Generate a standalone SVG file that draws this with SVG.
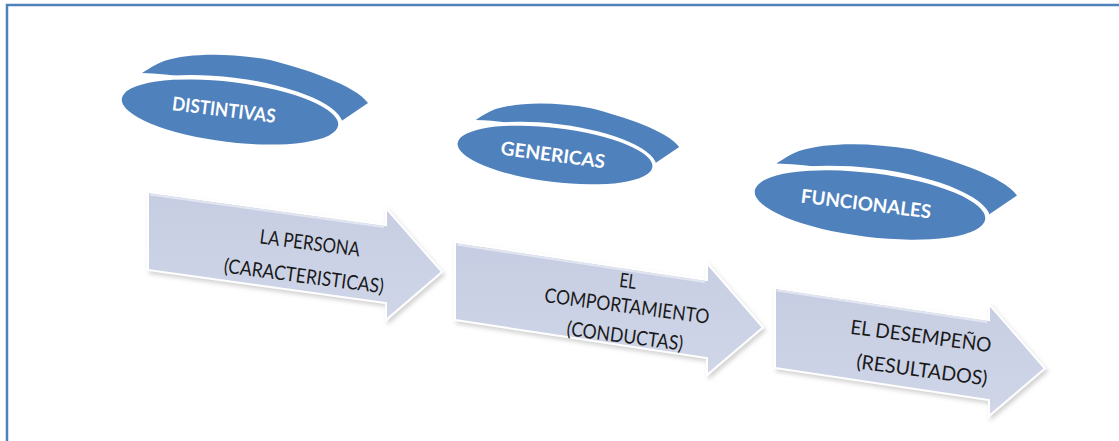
<svg xmlns="http://www.w3.org/2000/svg" width="1119" height="441" viewBox="0 0 1119 441">
<defs>
<filter id="sh" x="-10%" y="-15%" width="125%" height="140%">
<feDropShadow dx="2" dy="3" stdDeviation="2" flood-color="#7f7f7f" flood-opacity="0.35"/>
</filter>
<linearGradient id="ag" x1="0" y1="0" x2="0" y2="1">
<stop offset="0" stop-color="#c6cde2"/>
<stop offset="1" stop-color="#d0d6e8"/>
</linearGradient>
<path id="backShape" d="M-88,-39 C-80,-44 -74,-48 -66,-51 C-40,-59 0,-59 40,-52 C75,-43 125,-27 138,-9 L110,10 C60,-20 -40,-38 -88,-39 Z"/>
</defs>
<style>
.border{fill:none;stroke:#4f81bd;stroke-width:2.5}
.back{fill:#4f81bd}
.gap{fill:#ffffff}
.front{fill:#4f81bd}
.lbl{font-family:Lato,"Open Sans",sans-serif;font-weight:bold;font-size:19px;fill:#ffffff;text-anchor:middle}
.arrow{fill:url(#ag);stroke:#ffffff;stroke-width:2;stroke-linejoin:miter}
.hl{fill:none;stroke:#e2e6f1;stroke-width:2}
.txt{font-family:Lato,"Open Sans",sans-serif;font-size:20px;fill:#1a1a1a;text-anchor:middle}
</style>
<rect width="1119" height="441" fill="#ffffff"/>
<path class="border" d="M7,441 V5 H1119"/>

<g id="node-distintivas">
<g transform="translate(230,112)">
<use href="#backShape" class="back"/>
<ellipse class="gap" rx="113.5" ry="34.5" transform="rotate(7)"/>
<ellipse class="front" rx="109" ry="30" transform="rotate(7)"/>
</g>
<text class="lbl" x="224" y="116.5" transform="rotate(7 224 110)" textLength="104" lengthAdjust="spacingAndGlyphs">DISTINTIVAS</text>
</g>

<g id="node-genericas">
<g transform="translate(555,155) scale(0.9)">
<use href="#backShape" class="back"/>
<ellipse class="gap" rx="113.5" ry="34.5" transform="rotate(7)"/>
<ellipse class="front" rx="109" ry="30" transform="rotate(7)"/>
</g>
<text class="lbl" x="553" y="161.5" transform="rotate(7.5 553 155)" textLength="105" lengthAdjust="spacingAndGlyphs">GENERICAS</text>
</g>

<g id="node-funcionales">
<g transform="translate(870,205) scale(1.065)">
<use href="#backShape" class="back"/>
<ellipse class="gap" rx="113.5" ry="34.5" transform="rotate(7)"/>
<ellipse class="front" rx="109" ry="30" transform="rotate(7)"/>
</g>
<text class="lbl" x="866" y="210.5" transform="rotate(7 866 204)" textLength="131" lengthAdjust="spacingAndGlyphs">FUNCIONALES</text>
</g>

<g id="connectors">
<g id="arrow-persona">
<path class="arrow" filter="url(#sh)" d="M148,192 L386,225.1 L386,208.1 L442,271.9 L386,320.1 L386,303.1 L148,270 Z"/>
<path class="hl" d="M150,194.6 L384,227.1"/>
<text class="txt" x="310" y="250" transform="rotate(7.5 310 243)" textLength="101" lengthAdjust="spacingAndGlyphs">LA PERSONA</text>
<text class="txt" x="304" y="283" transform="rotate(7.5 304 276)" textLength="161" lengthAdjust="spacingAndGlyphs">(CARACTERISTICAS)</text>
</g>
<g id="arrow-comportamiento">
<path class="arrow" filter="url(#sh)" d="M455,242 L707,280.05 L707,263.05 L763,327.5 L707,375.05 L707,358.05 L455,320 Z"/>
<path class="hl" d="M457,244.6 L705,282.1"/>
<text class="txt" x="628" y="288" transform="rotate(7.5 628 281)" textLength="17" lengthAdjust="spacingAndGlyphs">EL</text>
<text class="txt" x="627" y="313" transform="rotate(7.5 627 306)" textLength="166" lengthAdjust="spacingAndGlyphs">COMPORTAMIENTO</text>
<text class="txt" x="625" y="343" transform="rotate(7.5 625 336)" textLength="117" lengthAdjust="spacingAndGlyphs">(CONDUCTAS)</text>
</g>
<g id="arrow-desempeno">
<path class="arrow" filter="url(#sh)" d="M775,288 L989,320.1 L989,304.1 L1045,368.5 L989,416.1 L989,400.1 L775,368 Z"/>
<path class="hl" d="M777,290.6 L987,322.1"/>
<text class="txt" x="921" y="343" transform="rotate(7.5 921 336)" textLength="142" lengthAdjust="spacingAndGlyphs">EL DESEMPEÑO</text>
<text class="txt" x="922" y="377" transform="rotate(7.5 922 370)" textLength="132" lengthAdjust="spacingAndGlyphs">(RESULTADOS)</text>
</g>
</g>
</svg>
